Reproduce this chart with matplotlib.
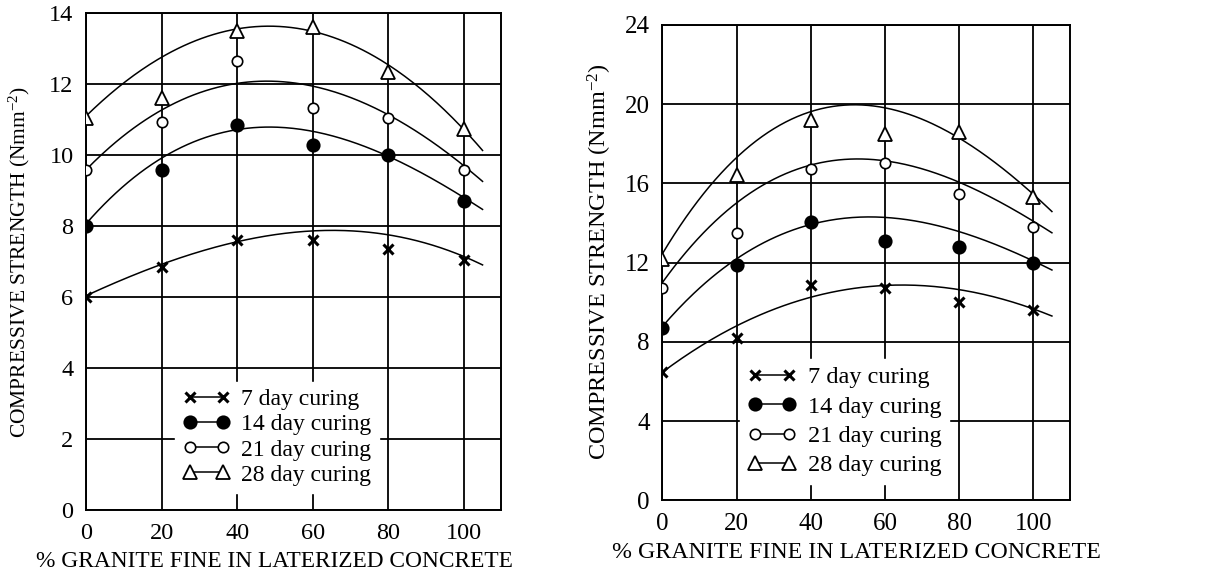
import numpy as np
import matplotlib
matplotlib.use('Agg')
import matplotlib.pyplot as plt

plt.rcParams['font.family'] = ['Liberation Serif', 'DejaVu Serif']
plt.rcParams['mathtext.fontset'] = 'custom'
plt.rcParams['mathtext.rm'] = 'Liberation Serif'
plt.rcParams['mathtext.it'] = 'Liberation Serif:italic'

# % granite fine
granite = [0, 20, 40, 60, 80, 100]

# left panel, measured points (Nmm^-2)
left_7 = [6.0, 6.85, 7.6, 7.6, 7.35, 7.05]
left_14 = [8.0, 9.58, 10.84, 10.28, 10.0, 8.7]
left_21 = [9.58, 10.95, 12.65, 11.33, 11.05, 9.58]
left_28 = [11.05, 11.6, 13.5, 13.6, 12.35, 10.75]

# left panel, drawn trend curves read at the same x
left_7_trend = [6.05, 6.9, 7.57, 7.9, 7.72, 7.16]
left_14_trend = [8.05, 9.97, 10.67, 10.67, 10.0, 8.8]
left_21_trend = [9.58, 11.3, 12.0, 11.94, 11.16, 9.7]
left_28_trend = [11.1, 12.78, 13.5, 13.57, 12.5, 10.74]

# right panel, measured points (Nmm^-2)
right_7 = [6.45, 8.2, 10.85, 10.7, 10.0, 9.6]
right_14 = [8.7, 11.9, 14.05, 13.1, 12.8, 12.0]
right_21 = [10.7, 13.5, 16.7, 17.0, 15.45, 13.8]
right_28 = [12.2, 16.4, 19.2, 18.5, 18.6, 15.3]

# right panel, drawn trend curves
right_7_trend = [6.5, 8.7, 10.3, 10.95, 10.5, 9.7]
right_14_trend = [8.8, 12.1, 14.0, 14.3, 13.5, 12.1]
right_21_trend = [11.0, 15.0, 16.9, 17.2, 16.0, 14.1]
right_28_trend = [12.4, 17.45, 19.5, 19.75, 18.4, 15.4]

labels = ['7 day curing', '14 day curing', '21 day curing', '28 day curing']
styles = [
    dict(marker='x', ms=6.5, mew=2.2, mfc='black', mec='black'),
    dict(marker='o', ms=9, mew=1.2, mfc='black', mec='black'),
    dict(marker='o', ms=7.5, mew=1.2, mfc='white', mec='black'),
    dict(marker='^', ms=9.5, mew=1.3, mfc='white', mec='black'),
]


def draw_panel(ax, series, trends, ymax, ystep, legend_box, fs_tick, fs_leg, spacing):
    xs = np.array(granite, dtype=float)
    xfit = np.linspace(0, 105, 200)
    for vals, trend, st, lab in zip(series, trends, styles, labels):
        coef = np.polyfit(xs, trend, 3)
        ax.plot(xfit, np.polyval(coef, xfit), color='black', lw=1.1, zorder=3)
        ax.plot(xs, vals, ls='none', zorder=4, **st)
        # legend proxy
        ax.plot([], [], color='black', lw=1.1, label=lab, **st)
    ax.set_xlim(0, 110)
    ax.set_ylim(0, ymax)
    ax.set_xticks(granite)
    ax.set_yticks(np.arange(0, ymax + 1, ystep))
    ax.grid(True, color='black', lw=1.3)
    ax.set_axisbelow(True)
    for s in ax.spines.values():
        s.set_linewidth(1.4)
    ax.tick_params(length=0, labelsize=fs_tick, pad=9)
    leg = ax.legend(loc='lower left', bbox_to_anchor=legend_box, numpoints=2,
                    handlelength=2.0, handletextpad=0.5, labelspacing=spacing,
                    fontsize=fs_leg, frameon=True, fancybox=False,
                    borderpad=0.3, borderaxespad=0)
    leg.get_frame().set_edgecolor('white')
    leg.get_frame().set_facecolor('white')
    leg.get_frame().set_alpha(1)
    leg.set_zorder(5)


fig = plt.figure(figsize=(12.29, 5.77), dpi=100)
ax1 = fig.add_axes([0.070, 0.116, 0.338, 0.861])
ax2 = fig.add_axes([0.539, 0.133, 0.332, 0.824])

draw_panel(ax1, [left_7, left_14, left_21, left_28],
           [left_7_trend, left_14_trend, left_21_trend, left_28_trend],
           14, 2, (0.215, 0.035), 17.5, 17, 0.15)
draw_panel(ax2, [right_7, right_14, right_21, right_28],
           [right_7_trend, right_14_trend, right_21_trend, right_28_trend],
           24, 4, (0.19, 0.035), 18, 17.5, 0.3)

ax1.set_xlabel('% GRANITE FINE IN LATERIZED CONCRETE', fontsize=16.8)
ax1.set_ylabel(r'COMPRESSIVE STRENGTH (Nmm$^{-2}$)', fontsize=15.5)
ax1.xaxis.set_label_coords(0.454, -0.083)
ax1.yaxis.set_label_coords(-0.13, 0.5)

ax2.set_xlabel('% GRANITE FINE IN LATERIZED CONCRETE', fontsize=17.2)
ax2.set_ylabel(r'COMPRESSIVE STRENGTH (Nmm$^{-2}$)', fontsize=17.5)
ax2.xaxis.set_label_coords(0.476, -0.088)
ax2.yaxis.set_label_coords(-0.118, 0.503)

fig.savefig('out.png', dpi=100)
